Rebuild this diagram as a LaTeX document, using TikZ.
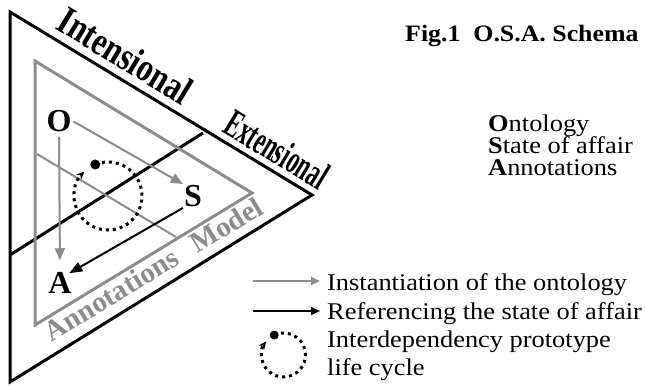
\documentclass[tikz,border=0pt]{standalone}
\usepackage{fontspec}
\setmainfont{Liberation Serif}
\newfontfamily\wfont[FakeStretch=1.1]{Liberation Serif}
\newfontfamily\intfont[FakeStretch=0.78]{Liberation Serif}
\newfontfamily\extfont[FakeStretch=0.57]{Liberation Serif}
\usetikzlibrary{arrows.meta}
\definecolor{mgray}{RGB}{140,140,140}
\tikzset{
  frame/.style={line width=3pt, line join=miter},
  gframe/.style={draw=mgray, line width=3pt, line join=miter},
  gthin/.style={draw=mgray, line width=2pt},
  garrow/.style={draw=mgray, fill=mgray, line width=2pt, -{Triangle[length=12pt,width=10pt]}},
  barrow/.style={draw=black, line width=2pt, -{Triangle[length=13pt,width=10pt]}},
  glegarrow/.style={draw=mgray, line width=2pt, -{Triangle[length=9pt,width=8pt]}},
  blegarrow/.style={draw=black, line width=2pt, -{Triangle[length=9pt,width=8pt]}},
  dotline/.style={line width=3pt, dash pattern=on 3pt off 4pt, -{Stealth[length=8pt,width=7pt]}},
  letter/.style={inner sep=1pt, font=\fontsize{32}{32}\selectfont\bfseries},
  edgelabel/.style={inner sep=0pt, anchor=base},
  glabel/.style={inner sep=0pt, anchor=north, text=mgray, font=\fontsize{29}{29}\selectfont\bfseries},
  legtext/.style={inner sep=0pt, anchor=base west, font=\wfont\fontsize{24}{24}\selectfont},
  listtext/.style={inner sep=0pt, anchor=base west, font=\wfont\fontsize{24}{24}\selectfont},
}
\begin{document}
\begin{tikzpicture}[x=1pt,y=-1pt]
\useasboundingbox (0,0) rectangle (647,387);
% outer triangle
\coordinate (T1) at (10,12);
\coordinate (T2) at (312,195);
\coordinate (T3) at (10,382);
\draw[frame] (T1) -- (T2) -- (T3) -- cycle;
% dividing line
\coordinate (D1) at (203,133);
\coordinate (D2) at (10,255);
\draw[frame] (D1) -- (D2);
% gray triangle
\coordinate (G1) at (35,61);
\coordinate (G2) at (252,193);
\coordinate (G3) at (35,325);
\draw[gframe] (G1) -- (G2) -- (G3) -- cycle;
\coordinate (L1) at (37,154);
\coordinate (L2) at (176,237);
\draw[gthin] (L1) -- (L2);
% edge labels
\node[edgelabel, rotate=-31.2, font=\intfont\fontsize{40}{40}\selectfont\bfseries] (intl) at (118.5,67) {Intensional};
\node[edgelabel, rotate=-31.2, font=\extfont\fontsize{40}{40}\selectfont\bfseries] (extl) at (270,161) {Extensional};
\node[glabel, rotate=31.3] (annl) at (106,285.6) {Annotations};
\node[glabel, rotate=31.3] (modl) at (221,216) {Model};
% letters
\node[letter] (O) at (59,121) {O};
\node[letter] (S) at (193,196) {S};
\node[letter] (A) at (60,283) {A};
\draw[garrow, shorten <=1pt] (O.east) -- (S.north west);
\draw[garrow, shorten <=4pt, shorten >=11pt] (O.south) -- (A.north);
\draw[barrow, shorten >=-4pt] (S.south west) -- (A.north east);
% life cycle
\coordinate (C) at (108,196);
\draw[dotline] (C) ++(-112:34) arc[start angle=-112, end angle=226, radius=34];
\fill (C) ++(-112:34) circle[radius=5];
% title and list
\node[inner sep=0pt, anchor=base west, font=\wfont\fontsize{23.5}{23.5}\selectfont\bfseries] (title) at (405,42) {Fig.1\ \ O.S.A. Schema};
\node[listtext] (onto) at (488,132) {\textbf{O}ntology};
\node[listtext] (soa) at (488,154) {\textbf{S}tate of affair};
\node[listtext] (ann) at (488,176) {\textbf{A}nnotations};
% legend
\coordinate (la1) at (253,281);
\coordinate (lb1) at (320,281);
\draw[glegarrow] (la1) -- (lb1);
\node[legtext] (leg1) at (327,290) {Instantiation of the ontology};
\coordinate (la2) at (253,311);
\coordinate (lb2) at (320,311);
\draw[blegarrow] (la2) -- (lb2);
\node[legtext] (leg2) at (327,319) {Referencing the state of affair};
\coordinate (LC) at (283.5,355);
\draw[dotline] (LC) ++(-115:22) arc[start angle=-115, end angle=218, radius=22];
\fill (LC) ++(-115:22) circle[radius=4.5];
\node[legtext] (leg3) at (327,347) {Interdependency prototype};
\node[legtext] (leg4) at (327,375) {life cycle};
\end{tikzpicture}
\end{document}
